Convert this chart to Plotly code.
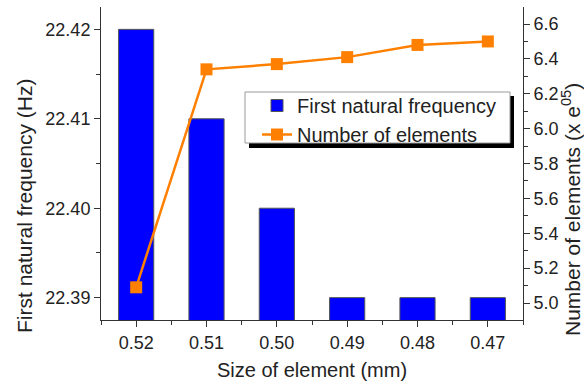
import plotly.graph_objects as go

# ---- data ----
sizes = ["0.52", "0.51", "0.50", "0.49", "0.48", "0.47"]
frequency = [22.42, 22.41, 22.40, 22.39, 22.39, 22.39]
elements = [5.09, 6.34, 6.37, 6.41, 6.48, 6.50]

xpos = list(range(len(sizes)))
minor_x = [i - 0.5 for i in range(len(sizes) + 1)]

FONT = "Liberation Sans, Arial, sans-serif"
AX = "#333333"

# plot area in pixels (for converting overlay shapes)
L, R, T, B = 101, 523, 7, 320
def px(x):
    return (x - L) / (R - L)
def py(y):
    return (B - y) / (B - T)

fig = go.Figure()
fig.add_trace(go.Bar(
    x=xpos, y=frequency, name="First natural frequency",
    marker=dict(color="#0000FF", line=dict(color="#555555", width=1)),
    width=0.5, yaxis="y",
))
fig.add_trace(go.Scatter(
    x=xpos, y=elements, name="Number of elements", mode="lines+markers",
    line=dict(color="#FF8000", width=2.5),
    marker=dict(symbol="square", size=12, color="#FF8000"),
    yaxis="y2",
))

fig.update_layout(
    width=584, height=385,
    margin=dict(l=L, r=584 - R, t=T, b=385 - B),
    paper_bgcolor="white", plot_bgcolor="white",
    font=dict(family=FONT, size=18, color="#222222"),
    bargap=0.5,
    showlegend=True,
    legend=dict(
        x=px(257), y=py(86), xanchor="left", yanchor="top",
        bgcolor="rgba(0,0,0,0)", borderwidth=0,
        font=dict(size=20, family=FONT, color="#222222"),
    ),
    xaxis=dict(
        range=[-0.5, len(sizes) - 0.5], tickmode="array", tickvals=xpos, ticktext=sizes,
        showline=True, linecolor=AX, linewidth=1, ticks="outside", ticklen=6, tickcolor=AX,
        minor=dict(tickvals=minor_x, ticks="outside", ticklen=4, tickcolor=AX),
        showgrid=False, zeroline=False, automargin=False,
    ),
    xaxis3=dict(
        overlaying="x", side="top", anchor="y",
        range=[-0.5, len(sizes) - 0.5], tickmode="array", tickvals=xpos,
        showticklabels=False, showline=True, linecolor=AX, linewidth=1,
        ticks="inside", ticklen=7, tickcolor=AX,
        minor=dict(tickvals=minor_x, ticks="inside", ticklen=4, tickcolor=AX),
        showgrid=False, zeroline=False, automargin=False,
    ),
    yaxis=dict(
        range=[22.3875, 22.4225], tick0=22.39, dtick=0.01, tickformat=".2f",
        showline=True, linecolor=AX, linewidth=1, ticks="outside", ticklen=6, tickcolor=AX,
        minor=dict(dtick=0.005, ticks="outside", ticklen=4, tickcolor=AX),
        showgrid=False, zeroline=False, automargin=False,
    ),
    yaxis2=dict(
        overlaying="y", side="right", anchor="x",
        range=[4.9025, 6.6975], tick0=5.0, dtick=0.2, tickformat=".1f",
        showline=True, linecolor=AX, linewidth=1, ticks="outside", ticklen=6, tickcolor=AX,
        minor=dict(dtick=0.1, ticks="outside", ticklen=4, tickcolor=AX),
        showgrid=False, zeroline=False, automargin=False,
    ),
    shapes=[
        # legend shadow
        dict(type="rect", xref="paper", yref="paper",
             x0=px(249), x1=px(514), y0=py(148), y1=py(96),
             fillcolor="black", line=dict(width=0), layer="above"),
        # legend box
        dict(type="rect", xref="paper", yref="paper",
             x0=px(245), x1=px(510), y0=py(143), y1=py(92),
             fillcolor="white", line=dict(color="#999999", width=1), layer="above"),
    ],
    annotations=[
        dict(text="First natural frequency (Hz)", xref="paper", yref="paper",
             x=0, y=0.5, xshift=-(L - 24), yshift=-(206 - 163.5), textangle=-90,
             showarrow=False, xanchor="center", yanchor="middle", font=dict(size=21)),
        dict(text="Number of elements (x e<sup>05</sup>)", xref="paper", yref="paper",
             x=1, y=0.5, xshift=571 - R, yshift=-(210 - 163.5), textangle=-90,
             showarrow=False, xanchor="center", yanchor="middle", font=dict(size=21)),
        dict(text="Size of element (mm)", xref="paper", yref="paper",
             x=0.5, y=0, yshift=-(370 - B), showarrow=False,
             xanchor="center", yanchor="middle", font=dict(size=20)),
    ],
)

fig.write_html("out.html", config={"displayModeBar": False},
               post_script="document.body.style.margin='0';")
